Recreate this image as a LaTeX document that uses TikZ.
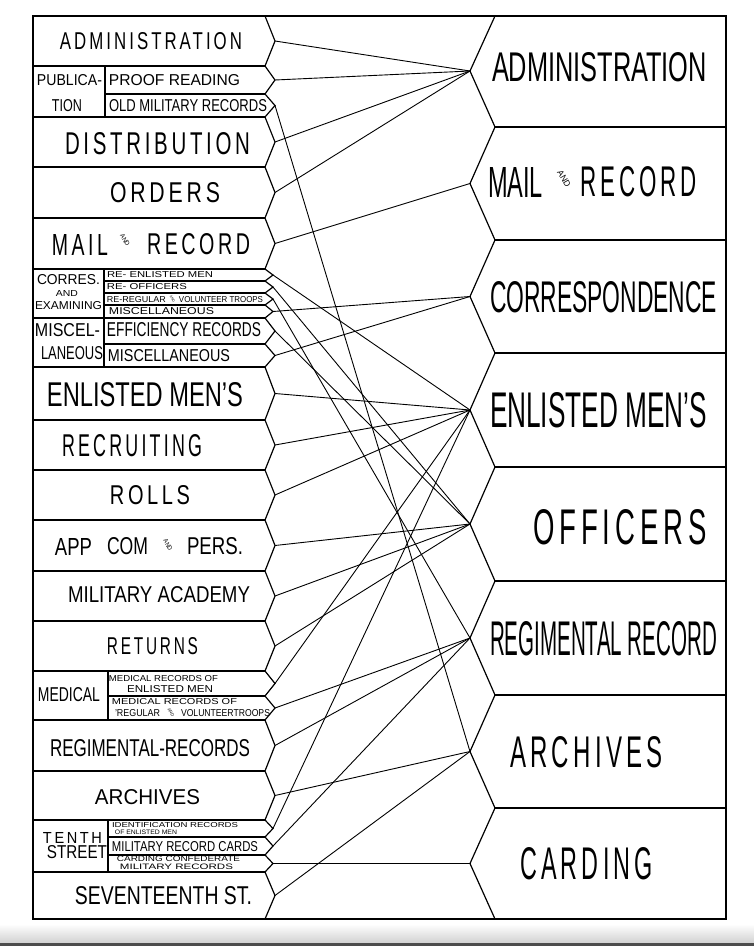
\documentclass[tikz,border=0pt]{standalone}
\usepackage{fontspec}
\usepackage{graphicx}
\setmainfont{Liberation Sans}
\newfontfamily\spcfont[LetterSpace=18]{Liberation Sans}
\newcommand\rbx[3]{\resizebox{#1pt}{#2pt}{\fontsize{\fpeval{#2*1.4}}{\fpeval{#2*1.6}}\selectfont #3}}
\newcommand\srbx[3]{\resizebox{#1pt}{#2pt}{\fontsize{\fpeval{#2*1.4}}{\fpeval{#2*1.6}}\spcfont #3}}
\begin{document}
\begin{tikzpicture}[x=1pt,y=-1pt,
  box/.style={line width=1.2pt, line join=miter},
  conn/.style={line width=0.9pt},
  txt/.style={inner sep=0pt, anchor=center},
  andtxt/.style={inner sep=0pt, anchor=center, rotate=-60}]
\useasboundingbox (0,0) rectangle (754,946);
\fill[white] (0,0) rectangle (754,946);
\shade[top color=white, bottom color=black!18] (0,924) rectangle (754,943);
\fill[black!70] (0,943) rectangle (754,946);

% ---------- frame ----------
\draw[box] (33,16) rectangle (726,919);

% ---------- left column ----------
\draw[box] (265,16) -- (275,41) -- (265,66) -- (275,80) -- (265,94) -- (275,105.5) -- (265,117)
 -- (275,142) -- (265,167) -- (275,192.5) -- (265,218) -- (275,243.5) -- (265,269)
 -- (273,275) -- (265,281) -- (273,287) -- (265,293) -- (273,299) -- (265,305) -- (273,311.5) -- (265,318)
 -- (275,331) -- (265,344) -- (275,355.5) -- (265,367) -- (275,393.5) -- (265,420)
 -- (275,445) -- (265,470) -- (275,495) -- (265,520) -- (275,545.5) -- (265,571)
 -- (275,596) -- (265,621) -- (275,646) -- (265,671) -- (275,683.5) -- (265,696)
 -- (275,708) -- (265,720) -- (275,745.5) -- (265,771) -- (275,795.5) -- (265,820)
 -- (273,828.5) -- (265,837) -- (273,846) -- (265,855) -- (273,863.5) -- (265,872)
 -- (275,895.5) -- (265,919);
\foreach \yy in {66,117,167,218,269,318,367,420,470,520,571,621,671,720,771,820,872}
  \draw[box] (33,\yy) -- (265,\yy);
\draw[box] (105,94) -- (265,94);
\foreach \yy in {281,293,305,344} \draw[box] (104,\yy) -- (265,\yy);
\foreach \yy in {696,837,855} \draw[box] (108,\yy) -- (265,\yy);
\draw[box] (105,66) -- (105,117);
\draw[box] (104,269) -- (104,367);
\draw[box] (108,671) -- (108,720);
\draw[box] (108,820) -- (108,872);

% left tips
\coordinate (l-admin) at (275,41);
\coordinate (l-proof) at (275,80);
\coordinate (l-oldmil) at (275,105.5);
\coordinate (l-dist) at (275,142);
\coordinate (l-orders) at (275,192.5);
\coordinate (l-mail) at (275,243.5);
\coordinate (l-reenl) at (273,275);
\coordinate (l-reoff) at (273,287);
\coordinate (l-rereg) at (273,299);
\coordinate (l-misc) at (273,311.5);
\coordinate (l-eff) at (275,331);
\coordinate (l-misc2) at (275,355.5);
\coordinate (l-enlm) at (275,393.5);
\coordinate (l-recr) at (275,445);
\coordinate (l-rolls) at (275,495);
\coordinate (l-app) at (275,545.5);
\coordinate (l-milac) at (275,596);
\coordinate (l-ret) at (275,646);
\coordinate (l-mede) at (275,683.5);
\coordinate (l-medr) at (275,708);
\coordinate (l-regr) at (275,745.5);
\coordinate (l-arch) at (275,795.5);
\coordinate (l-ident) at (273,828.5);
\coordinate (l-mrc) at (273,846);
\coordinate (l-cardc) at (273,863.5);
\coordinate (l-sev) at (275,895.5);

% ---------- right column ----------
\draw[box] (495,16) -- (470,71) -- (495,127) -- (470,183.5) -- (495,240) -- (470,296.5)
 -- (495,353) -- (470,410) -- (495,467) -- (470,524) -- (495,581) -- (470,638)
 -- (495,695) -- (470,751.5) -- (495,808) -- (470,863.5) -- (495,919);
\foreach \yy in {127,240,353,467,581,695,808}
  \draw[box] (495,\yy) -- (726,\yy);

\coordinate (r-admin) at (470,71);
\coordinate (r-mail) at (470,183.5);
\coordinate (r-corr) at (470,296.5);
\coordinate (r-enl) at (470,410);
\coordinate (r-off) at (470,524);
\coordinate (r-reg) at (470,638);
\coordinate (r-arch) at (470,751.5);
\coordinate (r-card) at (470,863.5);

% ---------- connectors ----------
\foreach \s in {admin,proof,dist,orders} \draw[conn] (l-\s) -- (r-admin);
\draw[conn] (l-mail) -- (r-mail);
\foreach \s in {misc,misc2} \draw[conn] (l-\s) -- (r-corr);
\foreach \s in {reenl,enlm,recr,rolls,mede,ident} \draw[conn] (l-\s) -- (r-enl);
\foreach \s in {reoff,eff,app,milac,ret} \draw[conn] (l-\s) -- (r-off);
\foreach \s in {rereg,medr,regr,mrc} \draw[conn] (l-\s) -- (r-reg);
\foreach \s in {oldmil,arch,sev} \draw[conn] (l-\s) -- (r-arch);
\draw[conn] (l-cardc) -- (r-card);

% ---------- left texts ----------
\node[txt] (t1) at (151,41.5) {\srbx{182}{17}{ADMINISTRATION}};
\node[txt] (t2a) at (69.5,80.5) {\rbx{65}{11}{PUBLICA-}};
\node[txt] (t2b) at (67,106) {\rbx{30}{12}{TION}};
\node[txt] (t3) at (174.5,80.5) {\rbx{131}{11}{PROOF READING}};
\node[txt] (t4) at (188,106) {\rbx{158}{12}{OLD MILITARY RECORDS}};
\node[txt] (t5) at (157.5,144) {\srbx{185}{22}{DISTRIBUTION}};
\node[txt] (t6) at (165,193) {\srbx{110}{20}{ORDERS}};
\node[txt] (t7a) at (80,244.5) {\srbx{56}{21}{MAIL}};
\node[andtxt] (t7b) at (125,240) {\rbx{13}{4.5}{AND}};
\node[txt] (t7c) at (198.5,244.5) {\srbx{103}{21}{RECORD}};
\node[txt] (t8a) at (68.5,280) {\rbx{63}{10}{CORRES.}};
\node[txt] (t8b) at (67,293) {\rbx{22}{6}{AND}};
\node[txt] (t8c) at (68.5,306) {\rbx{67}{8}{EXAMINING}};
\node[txt] (t9) at (160,275) {\rbx{106}{6}{RE- ENLISTED MEN}};
\node[txt] (t10) at (147,287) {\rbx{80}{6}{RE- OFFICERS}};
\node[txt] (t11a) at (136.5,299.5) {\rbx{59}{6}{RE-REGULAR}};
\node[andtxt] (t11b) at (172.5,299) {\rbx{7}{2.5}{AND}};
\node[txt] (t11c) at (221,299.5) {\rbx{84}{6}{VOLUNTEER TROOPS}};
\node[txt] (t12) at (161.5,311.5) {\rbx{105}{7}{MISCELLANEOUS}};
\node[txt] (t13a) at (67.5,330.5) {\rbx{65}{13}{MISCEL-}};
\node[txt] (t13b) at (72,353.5) {\rbx{62}{13}{LANEOUS}};
\node[txt] (t14) at (184,330) {\rbx{154}{14}{EFFICIENCY RECORDS}};
\node[txt] (t15) at (169,356) {\rbx{122}{12}{MISCELLANEOUS}};
\node[txt] (t16) at (145,395) {\rbx{196}{24}{ENLISTED MEN'S}};
\node[txt] (t17) at (132,446) {\srbx{140}{22}{RECRUITING}};
\node[txt] (t18) at (150,495.5) {\srbx{80}{19}{ROLLS}};
\node[txt] (t19a) at (73.5,546.5) {\rbx{37}{17}{APP}};
\node[txt] (t19b) at (127.5,546.5) {\rbx{41}{17}{COM}};
\node[andtxt] (t19c) at (168,545) {\rbx{12}{4.5}{AND}};
\node[txt] (t19d) at (215,546.5) {\rbx{56}{17}{PERS.}};
\node[txt] (t20) at (159,595) {\rbx{182}{16}{MILITARY ACADEMY}};
\node[txt] (t21) at (152.5,646.5) {\srbx{91}{17}{RETURNS}};
\node[txt] (t22) at (69,695) {\rbx{62}{14}{MEDICAL}};
\node[txt] (t23a) at (163.5,678.5) {\rbx{109}{6}{MEDICAL RECORDS OF}};
\node[txt] (t23b) at (170,689) {\rbx{86}{7}{ENLISTED MEN}};
\node[txt] (t24a) at (174.5,702) {\rbx{125}{6}{MEDICAL RECORDS OF}};
\node[txt] (t24b) at (137.5,713) {\rbx{45}{7}{'REGULAR}};
\node[andtxt] (t24c) at (171,712.5) {\rbx{9}{3}{AND}};
\node[txt] (t24d) at (225.5,713) {\rbx{89}{7}{VOLUNTEERTROOPS}};
\node[txt] (t25) at (150,748.5) {\rbx{200}{17}{REGIMENTAL-RECORDS}};
\node[txt] (t26) at (147.5,797.5) {\rbx{105}{15}{ARCHIVES}};
\node[txt] (t27a) at (72.5,837.5) {\srbx{59}{11}{TENTH}};
\node[txt] (t27b) at (77,852.5) {\rbx{60}{13}{STREET}};
\node[txt] (t28a) at (175,825) {\rbx{126}{5}{IDENTIFICATION RECORDS}};
\node[txt] (t28b) at (146,832.5) {\rbx{62}{4.5}{OF ENLISTED MEN}};
\node[txt] (t29) at (185,846.5) {\rbx{146}{10}{MILITARY RECORD CARDS}};
\node[txt] (t30a) at (178.5,858.5) {\rbx{123}{5.5}{CARDING CONFEDERATE}};
\node[txt] (t30b) at (176.5,866.5) {\rbx{113}{5.5}{MILITARY RECORDS}};
\node[txt] (t31) at (163.5,896) {\rbx{177}{18}{SEVENTEENTH ST.}};

% ---------- right texts ----------
\node[txt] (r1) at (599.5,67.5) {\rbx{215}{29}{ADMINISTRATION}};
\node[txt] (r2a) at (515.5,182) {\rbx{55}{30}{MAIL}};
\node[andtxt] (r2b) at (564,179) {\rbx{18}{6}{AND}};
\node[txt] (r2c) at (638.5,182) {\srbx{117}{30}{RECORD}};
\node[txt] (r3) at (603.5,297.5) {\rbx{227}{31}{CORRESPONDENCE}};
\node[txt] (r4) at (598.5,410.5) {\rbx{217}{35}{ENLISTED MEN'S}};
\node[txt] (r5) at (620,527.5) {\srbx{174}{35}{OFFICERS}};
\node[txt] (r6) at (603.5,639) {\rbx{227}{34}{REGIMENTAL RECORD}};
\node[txt] (r7) at (586.5,752.5) {\srbx{153}{31}{ARCHIVES}};
\node[txt] (r8) at (586.5,864) {\srbx{133}{32}{CARDING}};
\end{tikzpicture}
\end{document}
